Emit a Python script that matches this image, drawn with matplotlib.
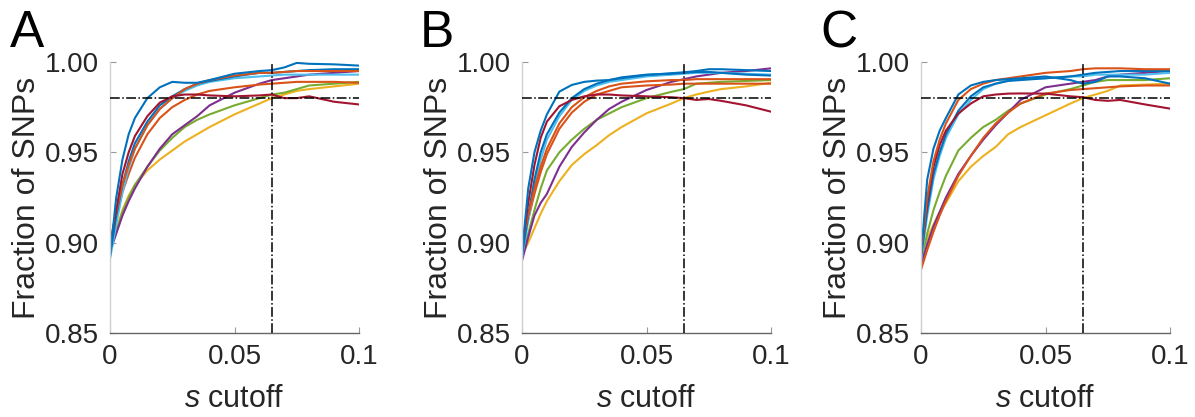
import matplotlib
matplotlib.use("Agg")
import matplotlib.pyplot as plt

plt.rcParams["font.family"] = ["Liberation Sans", "DejaVu Sans"]
plt.rcParams["mathtext.fontset"] = "custom"
plt.rcParams["mathtext.it"] = "Liberation Sans:italic"
plt.rcParams["mathtext.rm"] = "Liberation Sans"

# s cutoff grid shared by every curve
s_cutoff = [0, 0.0025, 0.005, 0.0075, 0.01, 0.015, 0.02, 0.025, 0.03, 0.035,
            0.04, 0.05, 0.06, 0.065, 0.07, 0.075, 0.08, 0.09, 0.1]

panel_labels = ["A", "B", "C"]
y_ticks = [0.85, 0.90, 0.95, 1.00]
x_ticks = [0, 0.05, 0.1]
x_tick_labels = ["0", "0.05", "0.1"]
s_threshold = 0.065
frac_threshold = 0.98

colors = {
    "blue": "#0072BD", "orange": "#D95319", "yellow": "#EDB120",
    "purple": "#7E2F8E", "green": "#77AC30", "lightblue": "#4DBEEE",
    "darkred": "#A2142F",
}

# Panel A: fraction of SNPs retained at each s cutoff
frac_a = [
    ("yellow",    [0.895, 0.907, 0.918, 0.926, 0.932, 0.940, 0.946, 0.951, 0.956, 0.960, 0.964, 0.971, 0.977, 0.980, 0.982, 0.984, 0.985, 0.9865, 0.988]),
    ("green",     [0.895, 0.906, 0.917, 0.925, 0.932, 0.942, 0.951, 0.958, 0.964, 0.968, 0.971, 0.976, 0.980, 0.982, 0.983, 0.985, 0.987, 0.988, 0.989]),
    ("purple",    [0.895, 0.905, 0.915, 0.923, 0.930, 0.942, 0.952, 0.960, 0.965, 0.970, 0.976, 0.983, 0.988, 0.990, 0.991, 0.992, 0.993, 0.994, 0.995]),
    ("orange",    [0.899, 0.914, 0.928, 0.938, 0.947, 0.960, 0.969, 0.975, 0.979, 0.982, 0.984, 0.986, 0.9875, 0.988, 0.9885, 0.989, 0.989, 0.989, 0.9885]),
    ("lightblue", [0.891, 0.910, 0.928, 0.941, 0.952, 0.965, 0.974, 0.980, 0.984, 0.987, 0.989, 0.991, 0.992, 0.9925, 0.993, 0.993, 0.993, 0.993, 0.993]),
    ("blue",      [0.893, 0.915, 0.932, 0.945, 0.955, 0.967, 0.976, 0.981, 0.985, 0.988, 0.9895, 0.992, 0.994, 0.994, 0.9945, 0.995, 0.9955, 0.996, 0.996]),
    ("orange",    [0.900, 0.917, 0.932, 0.943, 0.952, 0.965, 0.974, 0.980, 0.985, 0.988, 0.990, 0.9925, 0.994, 0.994, 0.9945, 0.995, 0.995, 0.995, 0.995]),
    ("darkred",   [0.897, 0.918, 0.938, 0.950, 0.959, 0.970, 0.9775, 0.981, 0.982, 0.982, 0.9815, 0.981, 0.9815, 0.982, 0.980, 0.980, 0.981, 0.978, 0.9765]),
    ("blue",      [0.892, 0.925, 0.946, 0.960, 0.969, 0.980, 0.986, 0.989, 0.9885, 0.9885, 0.990, 0.9935, 0.995, 0.9955, 0.997, 0.9995, 0.999, 0.9987, 0.998]),
]

# Panel B
frac_b = [
    ("yellow",    [0.893, 0.900, 0.908, 0.916, 0.923, 0.934, 0.943, 0.949, 0.954, 0.9595, 0.964, 0.9716, 0.977, 0.980, 0.982, 0.9836, 0.985, 0.9865, 0.9885]),
    ("green",     [0.893, 0.905, 0.918, 0.930, 0.940, 0.950, 0.957, 0.963, 0.968, 0.9715, 0.975, 0.980, 0.9835, 0.985, 0.988, 0.9885, 0.989, 0.9895, 0.990]),
    ("purple",    [0.890, 0.903, 0.915, 0.922, 0.927, 0.942, 0.953, 0.961, 0.968, 0.974, 0.978, 0.9845, 0.989, 0.9905, 0.992, 0.993, 0.994, 0.995, 0.9965]),
    ("orange",    [0.899, 0.913, 0.927, 0.939, 0.949, 0.963, 0.972, 0.978, 0.982, 0.984, 0.986, 0.987, 0.9875, 0.988, 0.988, 0.988, 0.988, 0.988, 0.988]),
    ("lightblue", [0.892, 0.912, 0.932, 0.946, 0.957, 0.970, 0.979, 0.984, 0.987, 0.989, 0.990, 0.992, 0.993, 0.9935, 0.994, 0.994, 0.994, 0.9935, 0.993]),
    ("blue",      [0.893, 0.915, 0.935, 0.950, 0.960, 0.972, 0.980, 0.985, 0.988, 0.990, 0.9915, 0.993, 0.9935, 0.994, 0.9945, 0.9945, 0.994, 0.993, 0.9925]),
    ("orange",    [0.900, 0.915, 0.930, 0.942, 0.952, 0.966, 0.975, 0.9805, 0.984, 0.9865, 0.988, 0.9893, 0.990, 0.990, 0.9905, 0.9905, 0.9905, 0.9905, 0.9905]),
    ("darkred",   [0.897, 0.922, 0.943, 0.958, 0.967, 0.9755, 0.979, 0.981, 0.982, 0.982, 0.9815, 0.981, 0.9805, 0.980, 0.979, 0.9795, 0.9785, 0.976, 0.9725]),
    ("blue",      [0.894, 0.930, 0.950, 0.962, 0.971, 0.9836, 0.9873, 0.989, 0.9897, 0.990, 0.991, 0.9928, 0.9938, 0.9943, 0.995, 0.996, 0.996, 0.9955, 0.995]),
]

# Panel C
frac_c = [
    ("yellow",    [0.893, 0.902, 0.910, 0.917, 0.922, 0.934, 0.942, 0.948, 0.953, 0.960, 0.964, 0.9705, 0.977, 0.980, 0.982, 0.984, 0.987, 0.9875, 0.988]),
    ("green",     [0.890, 0.905, 0.918, 0.928, 0.937, 0.951, 0.958, 0.964, 0.968, 0.973, 0.977, 0.982, 0.985, 0.987, 0.989, 0.990, 0.990, 0.990, 0.991]),
    ("purple",    [0.888, 0.899, 0.909, 0.917, 0.925, 0.938, 0.948, 0.957, 0.965, 0.972, 0.979, 0.986, 0.988, 0.989, 0.990, 0.992, 0.993, 0.994, 0.995]),
    ("orange",    [0.885, 0.896, 0.906, 0.915, 0.923, 0.937, 0.948, 0.958, 0.966, 0.972, 0.977, 0.9825, 0.9845, 0.985, 0.9855, 0.986, 0.9865, 0.987, 0.987]),
    ("lightblue", [0.890, 0.915, 0.935, 0.948, 0.958, 0.971, 0.979, 0.985, 0.988, 0.990, 0.9905, 0.991, 0.992, 0.992, 0.993, 0.993, 0.993, 0.993, 0.994]),
    ("blue",      [0.892, 0.918, 0.938, 0.950, 0.960, 0.973, 0.981, 0.986, 0.988, 0.9895, 0.990, 0.991, 0.992, 0.993, 0.994, 0.9945, 0.995, 0.995, 0.995]),
    ("darkred",   [0.895, 0.922, 0.942, 0.954, 0.962, 0.9715, 0.977, 0.981, 0.982, 0.9825, 0.9826, 0.9825, 0.981, 0.9805, 0.979, 0.9785, 0.979, 0.9765, 0.9742]),
    ("orange",    [0.893, 0.925, 0.945, 0.957, 0.966, 0.979, 0.985, 0.988, 0.990, 0.991, 0.992, 0.994, 0.995, 0.996, 0.9965, 0.9965, 0.9965, 0.996, 0.996]),
    ("blue",      [0.893, 0.935, 0.952, 0.962, 0.969, 0.982, 0.987, 0.989, 0.990, 0.9905, 0.991, 0.992, 0.990, 0.988, 0.989, 0.992, 0.992, 0.991, 0.988]),
]

panels = [frac_a, frac_b, frac_c]

W, H = 1195, 417
fig = plt.figure(figsize=(W / 100, H / 100), dpi=100)

ax_left_px = [110, 522, 921]
ax_w_px, ax_top_px, ax_bot_px = 249, 62, 333
letter_x_px = [10, 420, 820]

text_color = "#262626"

for i, (curves, label) in enumerate(zip(panels, panel_labels)):
    ax = fig.add_axes([ax_left_px[i] / W, (H - ax_bot_px) / H,
                       ax_w_px / W, (ax_bot_px - ax_top_px) / H])
    for cname, vals in curves:
        ax.plot(s_cutoff, vals, color=colors[cname], lw=1.5, zorder=2)
    ax.axhline(frac_threshold, color="black", ls="-.", lw=1.1, zorder=3)
    ax.axvline(s_threshold, color="black", ls="-.", lw=1.1, zorder=3)

    ax.set_xlim(0, 0.1)
    ax.set_ylim(0.85, 1.0)
    ax.set_xticks(x_ticks)
    ax.set_xticklabels(x_tick_labels)
    ax.set_yticks(y_ticks)
    ax.set_yticklabels([f"{v:.2f}" for v in y_ticks])

    for side in ("top", "right"):
        ax.spines[side].set_visible(False)
    ax.spines["left"].set_color("#d0d0d0")
    ax.spines["bottom"].set_color("#666666")
    ax.spines["left"].set_linewidth(1.0)
    ax.spines["bottom"].set_linewidth(1.0)

    ax.tick_params(axis="both", direction="in", length=4, width=0.8,
                   labelsize=20, labelcolor=text_color, color="#999999", pad=8)
    ax.set_xlabel(r"$\mathit{s}$ cutoff", fontsize=22, color=text_color, labelpad=10)
    ax.set_ylabel("Fraction of SNPs", fontsize=23, color=text_color, labelpad=2)

    fig.text(letter_x_px[i] / W, (H - 47) / H, label, fontsize=37,
             color="black", ha="left", va="baseline")

fig.savefig("out.png", dpi=100)
